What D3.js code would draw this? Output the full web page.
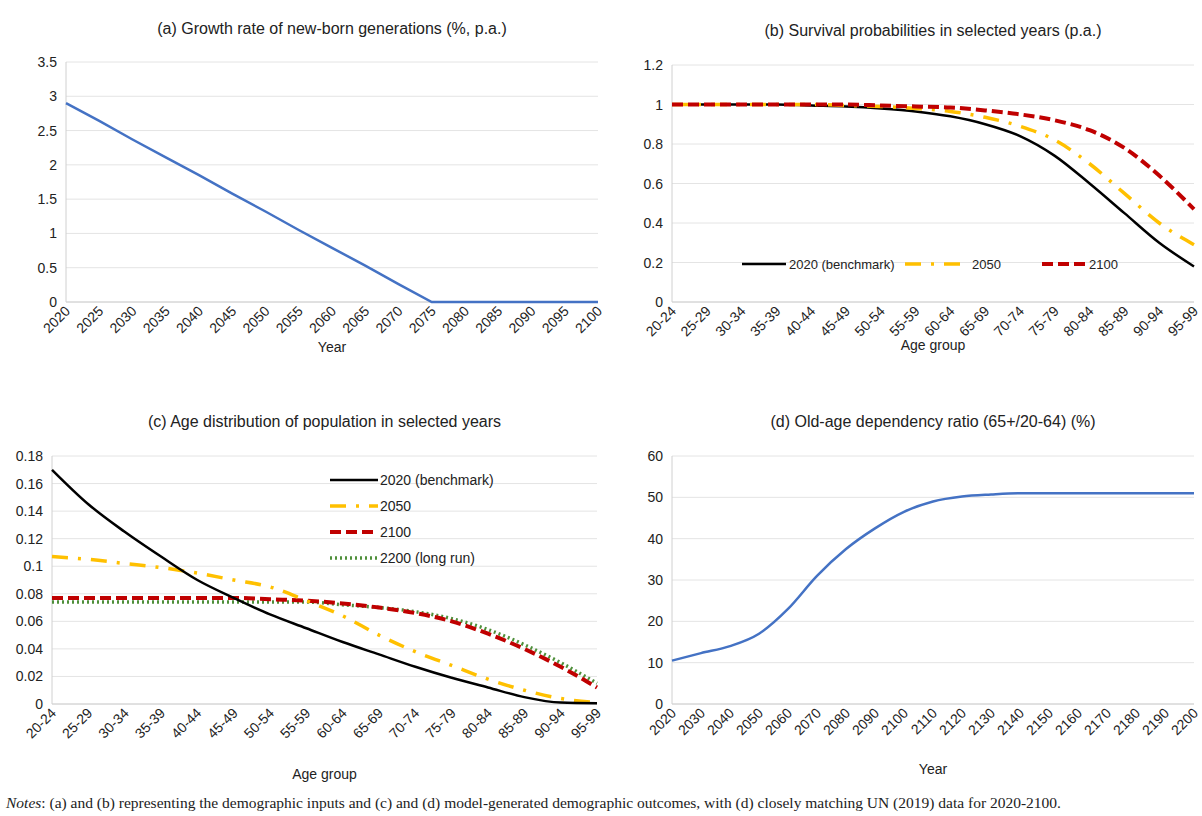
<!DOCTYPE html>
<html><head><meta charset="utf-8">
<script src="https://cdn.jsdelivr.net/npm/d3@7"></script>
<style>
body{margin:0;background:#fff;}
svg text{font-family:"Liberation Sans",Arial,sans-serif;fill:#222;}
.grid line{stroke:#e4e4e4;}
</style></head><body>
<svg id="c" width="1202" height="816"></svg>
<script>
const growthYears = d3.range(2020, 2101, 5);
const growthRate = [2.9, 2.64, 2.37, 2.11, 1.85, 1.58, 1.32, 1.05, 0.79, 0.53, 0.26, 0, 0, 0, 0, 0, 0];
const ageGroups = ["20-24","25-29","30-34","35-39","40-44","45-49","50-54","55-59","60-64","65-69","70-74","75-79","80-84","85-89","90-94","95-99"];
const surv2020 = [1,1,1,1,0.995,0.99,0.98,0.965,0.94,0.9,0.84,0.74,0.6,0.45,0.3,0.18];
const surv2050 = [1,1,1,1,1,0.995,0.99,0.98,0.965,0.935,0.89,0.82,0.7,0.55,0.4,0.29];
const surv2100 = [1,1,1,1,1,1,0.995,0.99,0.985,0.97,0.95,0.92,0.87,0.78,0.64,0.47];
const dist2020 = [0.17,0.145,0.125,0.107,0.09,0.077,0.065,0.055,0.045,0.036,0.027,0.019,0.012,0.005,0.001,0.0005];
const dist2050 = [0.107,0.105,0.102,0.099,0.095,0.09,0.085,0.075,0.064,0.05,0.038,0.028,0.018,0.01,0.004,0.001];
const dist2100 = [0.077,0.077,0.077,0.077,0.077,0.077,0.076,0.075,0.073,0.07,0.066,0.06,0.051,0.04,0.027,0.012];
const dist2200 = [0.074,0.074,0.074,0.074,0.074,0.074,0.074,0.074,0.072,0.07,0.067,0.062,0.054,0.043,0.03,0.015];
const oadrYears = d3.range(2020, 2201, 10);
const oadr = [10.5,12.3,14,17,23,31,37.5,42.5,46.5,49,50.2,50.7,51,51,51,51,51,51,51];

const svg = d3.select("#c");

function panel(o) {
  const g = svg.append("g");
  const x = d3.scalePoint().domain(o.cats).range([o.x0, o.x1]);
  const y = d3.scaleLinear().domain([0, o.ymax]).range([o.y1, o.y0]);
  g.append("g").attr("class", "grid").selectAll("line").data(o.yticks).join("line")
    .attr("x1", o.x0).attr("x2", o.x1).attr("y1", d => y(d)).attr("y2", d => y(d));
  g.selectAll(".yl").data(o.yticks).join("text").attr("x", o.x0 - 9).attr("y", d => y(d) + 5)
    .attr("text-anchor", "end").attr("font-size", 14).text(o.yfmt);
  g.append("line").attr("x1", o.x0).attr("x2", o.x0).attr("y1", o.y0).attr("y2", o.y1).attr("stroke", "#d0d0d0");
  g.append("line").attr("x1", o.x0).attr("x2", o.x1).attr("y1", o.y1).attr("y2", o.y1).attr("stroke", "#d0d0d0");
  g.selectAll(".xl").data(o.cats).join("text")
    .attr("transform", d => `translate(${x(d) + 5},${o.y1 + 10}) rotate(-45)`)
    .attr("text-anchor", "end").attr("font-size", 14).text(d => d);
  g.append("text").attr("x", (o.x0 + o.x1) / 2).attr("y", o.titleY).attr("text-anchor", "middle")
    .attr("font-size", 16).text(o.title);
  g.append("text").attr("x", (o.x0 + o.x1) / 2).attr("y", o.xlabY).attr("text-anchor", "middle")
    .attr("font-size", 14).text(o.xlab);
  const line = d3.line().x((d, i) => x(o.cats[i])).y(d => y(d)).curve(o.curve || d3.curveMonotoneX);
  o.series.forEach(s => {
    g.append("path").attr("d", line(s.values)).attr("fill", "none").attr("stroke", s.color)
      .attr("stroke-width", s.w || 2.5).attr("stroke-dasharray", s.dash || null);
  });
  if (o.legend) o.legend(g);
  return g;
}

const sty = {
  s2020: {color: "#000", w: 2.5},
  s2050: {color: "#ffc000", w: 3.5, dash: "16,10,3,10"},
  s2100: {color: "#c00000", w: 4, dash: "11,5"},
  s2200: {color: "#4e8f3a", w: 3.5, dash: "2,3"}
};

panel({cats: growthYears, x0: 66, x1: 598, y0: 62, y1: 302, ymax: 3.5, curve: d3.curveLinear,
  yticks: d3.range(0, 3.51, 0.5), yfmt: d => d3.format("~g")(d),
  title: "(a) Growth rate of new-born generations (%, p.a.)", titleY: 34, xlab: "Year", xlabY: 352,
  series: [{values: growthRate, color: "#4472c4", w: 2.5}]});

panel({cats: ageGroups, x0: 672, x1: 1194, y0: 65, y1: 302, ymax: 1.2,
  yticks: d3.range(0, 1.21, 0.2), yfmt: d => d3.format("~g")(+d.toFixed(1)),
  title: "(b) Survival probabilities in selected years (p.a.)", titleY: 36, xlab: "Age group", xlabY: 350,
  series: [{values: surv2020, ...sty.s2020}, {values: surv2050, ...sty.s2050}, {values: surv2100, ...sty.s2100}],
  legend: g => {
    const items = [["2020 (benchmark)", sty.s2020, 742, 44], ["2050", sty.s2050, 905, 64], ["2100", sty.s2100, 1042, 44]];
    items.forEach(([t, s, lx, lw]) => {
      g.append("line").attr("x1", lx).attr("x2", lx + lw).attr("y1", 264).attr("y2", 264)
        .attr("stroke", s.color).attr("stroke-width", s.w).attr("stroke-dasharray", s.dash || null);
      g.append("text").attr("x", lx + lw + 3).attr("y", 269).attr("font-size", 13).text(t);
    });
  }});

panel({cats: ageGroups, x0: 52, x1: 597, y0: 456, y1: 704, ymax: 0.18,
  yticks: d3.range(0, 0.181, 0.02), yfmt: d => d3.format("~g")(+d.toFixed(2)),
  title: "(c) Age distribution of population in selected years", titleY: 427, xlab: "Age group", xlabY: 779,
  series: [{values: dist2200, ...sty.s2200}, {values: dist2100, ...sty.s2100}, {values: dist2050, ...sty.s2050}, {values: dist2020, ...sty.s2020}],
  legend: g => {
    const items = [["2020 (benchmark)", sty.s2020], ["2050", sty.s2050], ["2100", sty.s2100], ["2200 (long run)", sty.s2200]];
    items.forEach(([t, s], i) => {
      const ly = 480 + i * 26;
      g.append("line").attr("x1", 330).attr("x2", 378).attr("y1", ly).attr("y2", ly)
        .attr("stroke", s.color).attr("stroke-width", s.w).attr("stroke-dasharray", s.dash || null);
      g.append("text").attr("x", 380).attr("y", ly + 5).attr("font-size", 14).text(t);
    });
  }});

panel({cats: oadrYears, x0: 672, x1: 1194, y0: 456, y1: 704, ymax: 60,
  yticks: d3.range(0, 61, 10), yfmt: d => d,
  title: "(d) Old-age dependency ratio (65+/20-64) (%)", titleY: 427, xlab: "Year", xlabY: 774,
  series: [{values: oadr, color: "#4472c4", w: 2.5}]});

const note = svg.append("text").attr("x", 6).attr("y", 808).attr("font-size", 15.5)
  .style("font-family", "'Liberation Serif','DejaVu Serif',serif");
note.append("tspan").attr("font-style", "italic").text("Notes");
note.append("tspan").text(": (a) and (b) representing the demographic inputs and (c) and (d) model-generated demographic outcomes, with (d) closely matching UN (2019) data for 2020-2100.");
</script></body></html>
